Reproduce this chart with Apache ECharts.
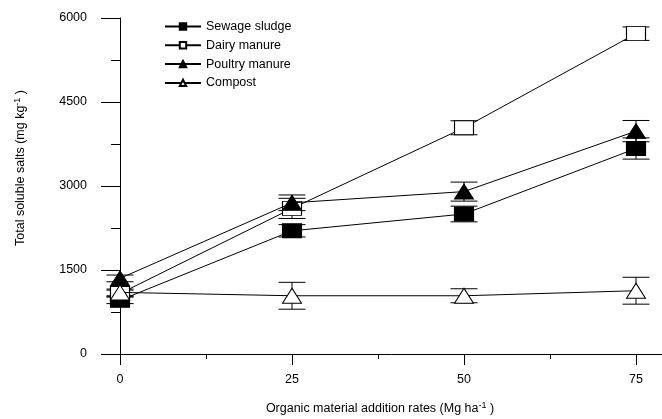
<!DOCTYPE html>
<html>
<head>
<meta charset="utf-8">
<script src="https://cdn.jsdelivr.net/npm/echarts@6/dist/echarts.min.js"></script>
<style>
html,body{margin:0;padding:0;background:#fff;}
#main{width:662px;height:419px;}
</style>
</head>
<body>
<div id="main"></div>
<script>
var rates = [0, 25, 50, 75];
var xTickLabels = ['0', '25', '50', '75'];
var yTickLabels = ['0', '1500', '3000', '4500', '6000'];
var seriesNames = ['Sewage sludge', 'Dairy manure', 'Poultry manure', 'Compost'];
var sewage = [960, 2200, 2500, 3670];
var sewageErr = [60, 110, 140, 190];
var dairy = [1080, 2600, 4040, 5720];
var dairyErr = [60, 180, 125, 120];
var poultry = [1350, 2700, 2900, 3980];
var poultryErr = [60, 140, 170, 190];
var compost = [1100, 1040, 1040, 1130];
var compostErr = [60, 240, 125, 240];

var FONT = '"Liberation Sans", Arial, sans-serif';
var chart = echarts.init(document.getElementById('main'), null, {renderer: 'canvas'});

function pts(vals) { return rates.map(function (x, i) { return [x, vals[i]]; }); }
function errPts(vals, errs) { return rates.map(function (x, i) { return [x, vals[i] - errs[i], vals[i] + errs[i]]; }); }

function errSeries(vals, errs, z) {
  return {
    type: 'custom',
    z: z,
    silent: true,
    clip: false,
    data: errPts(vals, errs),
    encode: {x: 0, y: [1, 2]},
    renderItem: function (params, api) {
      var x = api.value(0);
      var lo = api.coord([x, api.value(1)]);
      var hi = api.coord([x, api.value(2)]);
      var hw = 13.5;
      var st = {stroke: '#000', lineWidth: 1};
      return {
        type: 'group',
        children: [
          {type: 'line', shape: {x1: lo[0], y1: lo[1], x2: hi[0], y2: hi[1]}, style: st},
          {type: 'line', shape: {x1: lo[0] - hw, y1: lo[1], x2: lo[0] + hw, y2: lo[1]}, style: st},
          {type: 'line', shape: {x1: hi[0] - hw, y1: hi[1], x2: hi[0] + hw, y2: hi[1]}, style: st}
        ]
      };
    }
  };
}

function lineSeries(name, vals, symbol, size, fill, z) {
  return {
    name: name,
    type: 'line',
    z: z,
    data: pts(vals),
    symbol: symbol,
    symbolSize: size,
    showAllSymbol: true,
    clip: false,
    lineStyle: {color: '#000', width: 1},
    itemStyle: {color: fill, borderColor: '#000', borderWidth: 1},
    emphasis: {disabled: true},
    animation: false
  };
}

var option = {
  animation: false,
  backgroundColor: '#fff',
  textStyle: {fontFamily: FONT},
  grid: {left: 120, top: 18, bottom: 65, width: 550.4, containLabel: false, outerBoundsMode: 'none'},
  legend: {
    orient: 'vertical',
    left: 164,
    top: 20,
    padding: 0,
    itemWidth: 36,
    itemHeight: 8,
    itemGap: 5.8,
    data: seriesNames,
    textStyle: {fontSize: 12.5, color: '#000', fontFamily: FONT},
    selectedMode: false
  },
  xAxis: {
    type: 'value',
    min: 0,
    max: 80,
    interval: 25,
    axisLine: {lineStyle: {color: '#000', width: 1}},
    axisTick: {show: true, length: 11, lineStyle: {color: '#000'}},
    minorTick: {show: true, splitNumber: 2, length: 5, lineStyle: {color: '#000'}},
    splitLine: {show: false},
    axisLabel: {
      margin: 19,
      fontSize: 12.5,
      color: '#000',
      fontFamily: FONT,
      formatter: function (v) { var i = rates.indexOf(v); return i >= 0 ? xTickLabels[i] : ''; }
    }
  },
  yAxis: {
    type: 'value',
    min: 0,
    max: 6000,
    interval: 1500,
    axisLine: {show: true, lineStyle: {color: '#000', width: 1}},
    axisTick: {show: true, length: 19, lineStyle: {color: '#000'}},
    minorTick: {show: true, splitNumber: 2, length: 9, lineStyle: {color: '#000'}},
    splitLine: {show: false},
    axisLabel: {
      margin: 33,
      fontSize: 12.5,
      color: '#000',
      fontFamily: FONT,
      formatter: function (v) { var i = Math.round(v / 1500); return yTickLabels[i] || ''; }
    }
  },
  graphic: [
    {
      type: 'text',
      x: 21,
      y: 168,
      rotation: Math.PI / 2,
      style: {
        text: '{a|Total soluble salts (mg kg}{s|-1}{a| )}',
        align: 'center',
        verticalAlign: 'middle',
        rich: {
          a: {fontSize: 12.5, fontFamily: FONT, fill: '#000'},
          s: {fontSize: 9, fontFamily: FONT, fill: '#000', verticalAlign: 'top', padding: [0, 0, 6, 0]}
        }
      }
    },
    {
      type: 'text',
      x: 380,
      y: 409,
      style: {
        text: '{a|Organic material addition rates (Mg ha}{s|-1}{a| )}',
        align: 'center',
        verticalAlign: 'middle',
        rich: {
          a: {fontSize: 12.5, fontFamily: FONT, fill: '#000'},
          s: {fontSize: 9, fontFamily: FONT, fill: '#000', verticalAlign: 'top', padding: [0, 0, 6, 0]}
        }
      }
    }
  ],
  series: [
    errSeries(sewage, sewageErr, 2),
    errSeries(dairy, dairyErr, 2),
    errSeries(poultry, poultryErr, 2),
    errSeries(compost, compostErr, 2),
    lineSeries(seriesNames[0], sewage, 'rect', [19, 14], '#000', 3),
    lineSeries(seriesNames[1], dairy, 'rect', [19, 14], '#fff', 4),
    lineSeries(seriesNames[2], poultry, 'triangle', [19, 15], '#000', 5),
    lineSeries(seriesNames[3], compost, 'triangle', [19, 15], '#fff', 6)
  ]
};
chart.setOption(option);
</script>
</body>
</html>
